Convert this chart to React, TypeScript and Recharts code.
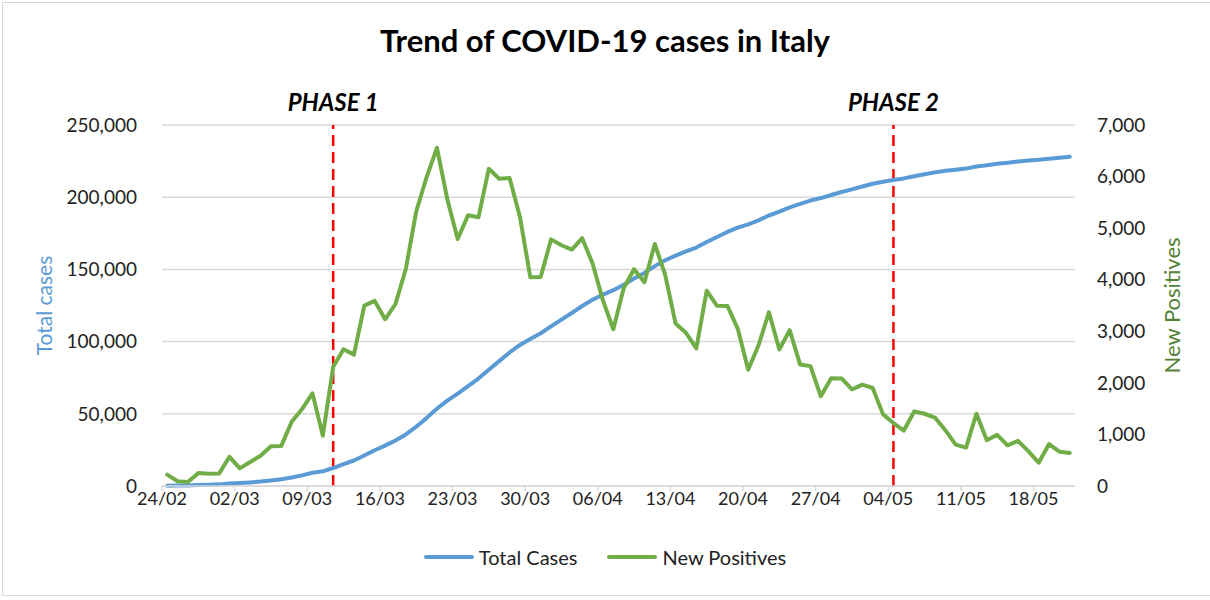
import { LineChart, Line, XAxis, YAxis, CartesianGrid, ReferenceLine, Legend } from 'recharts';

const days = [
  '24/02', '25/02', '26/02', '27/02', '28/02', '29/02',
  '01/03', '02/03', '03/03', '04/03', '05/03', '06/03', '07/03', '08/03', '09/03', '10/03',
  '11/03', '12/03', '13/03', '14/03', '15/03', '16/03', '17/03', '18/03', '19/03', '20/03',
  '21/03', '22/03', '23/03', '24/03', '25/03', '26/03', '27/03', '28/03', '29/03', '30/03', '31/03',
  '01/04', '02/04', '03/04', '04/04', '05/04', '06/04', '07/04', '08/04', '09/04', '10/04',
  '11/04', '12/04', '13/04', '14/04', '15/04', '16/04', '17/04', '18/04', '19/04', '20/04',
  '21/04', '22/04', '23/04', '24/04', '25/04', '26/04', '27/04', '28/04', '29/04', '30/04',
  '01/05', '02/05', '03/05', '04/05', '05/05', '06/05', '07/05', '08/05', '09/05', '10/05',
  '11/05', '12/05', '13/05', '14/05', '15/05', '16/05', '17/05', '18/05', '19/05', '20/05', '21/05',
];

const totalCases = [
  229, 322, 400, 650, 888, 1128,
  1694, 2036, 2502, 3089, 3858, 4636, 5883, 7375, 9172, 10149,
  12462, 15113, 17660, 21157, 24747, 27980, 31506, 35713, 41035, 47021,
  53578, 59138, 63927, 69176, 74386, 80539, 86498, 92472, 97689, 101739, 105792,
  110574, 115242, 119827, 124632, 128948, 132547, 135586, 139422, 143626, 147577,
  152271, 156363, 159516, 162488, 165155, 168941, 172434, 175925, 178972, 181228,
  183957, 187327, 189973, 192994, 195351, 197675, 199414, 201505, 203591, 205463,
  207428, 209328, 210717, 211938, 213013, 214457, 215858, 217185, 218268, 219070,
  219814, 221216, 222104, 223096, 223885, 224760, 225435, 225886, 226699, 227364, 228006,
];

const newPositives = [
  221, 93, 78, 250, 238, 240,
  566, 342, 466, 587, 769, 778, 1247, 1492, 1797, 977,
  2313, 2651, 2547, 3497, 3590, 3233, 3526, 4207, 5322, 5986,
  6557, 5560, 4789, 5249, 5210, 6153, 5959, 5974, 5217, 4050, 4053,
  4782, 4668, 4585, 4805, 4316, 3599, 3039, 3836, 4204, 3951,
  4694, 4092, 3153, 2972, 2667, 3786, 3493, 3491, 3047, 2256,
  2729, 3370, 2646, 3021, 2357, 2324, 1739, 2091, 2086, 1872,
  1965, 1900, 1389, 1221, 1075, 1444, 1401, 1327, 1083, 802,
  744, 1402, 888, 992, 789, 875, 675, 451, 813, 665, 642,
];

const tickLabels = ['24/02', '02/03', '09/03', '16/03', '23/03', '30/03', '06/04', '13/04', '20/04', '27/04', '04/05', '11/05', '18/05'];
const leftTicks = [0, 50000, 100000, 150000, 200000, 250000];
const rightTicks = [0, 1000, 2000, 3000, 4000, 5000, 6000, 7000];
const phases = [
  { label: 'PHASE 1', date: '11/03' },
  { label: 'PHASE 2', date: '04/05' },
];

const FONT = 'Lato, sans-serif';
const BLUE = '#5B9BD5';
const GREEN = '#70AD47';
const TEXT = '#222';

const data = days.map((d, i) => ({ i, date: d, total: totalCases[i], positives: newPositives[i] }));
// Excel places date ticks at the left edge of each day slot
const xTicks = tickLabels.map((_, k) => k * 7 - 0.5);
const fmt = (v: number) => v.toLocaleString('en-US');

function ChartLegend() {
  const items = [
    { name: 'Total Cases', color: BLUE },
    { name: 'New Positives', color: GREEN },
  ];
  return (
    <div style={{ display: 'flex', justifyContent: 'center', alignItems: 'center', height: 34, fontFamily: FONT, fontSize: 20, color: TEXT }}>
      {items.map((it, k) => (
        <div key={it.name} style={{ display: 'flex', alignItems: 'center', marginLeft: k ? 30 : 0 }}>
          <span style={{ display: 'inline-block', width: 50, height: 4, background: it.color, borderRadius: 2, marginRight: 5 }} />
          <span>{it.name}</span>
        </div>
      ))}
    </div>
  );
}

export default function App() {
  return (
    <div style={{ position: 'absolute', left: 0, top: 0, width: 1210, height: 600, background: '#fff', overflow: 'hidden' }}>
      <div style={{ position: 'absolute', left: 2, top: 2, width: 1220, height: 594, border: '1px solid #D9D9D9', boxSizing: 'border-box' }} />
      <div style={{ position: 'absolute', left: 0, top: 21, width: 1210, textAlign: 'center', fontFamily: FONT, fontWeight: 700, fontSize: 31, color: '#000' }}>
        Trend of COVID-19 cases in Italy
      </div>
      <LineChart width={1210} height={600} data={data} margin={{ top: 125, right: 0, bottom: 0, left: 0 }} style={{ position: 'absolute', left: 0, top: 0 }}>
        <CartesianGrid yAxisId="left" vertical={false} stroke="#D9D9D9" strokeWidth={1.5} />
        <XAxis
          dataKey="i"
          type="number"
          domain={[-0.5, 87.5]}
          ticks={xTicks}
          interval={0}
          allowDataOverflow
          height={80}
          tickFormatter={(v: number) => tickLabels[Math.round((v + 0.5) / 7)]}
          tick={{ fill: TEXT, fontSize: 18, fontFamily: FONT }}
          axisLine={{ stroke: '#D9D9D9', strokeWidth: 1.5 }}
          tickLine={{ stroke: '#D9D9D9', strokeWidth: 1.5 }}
          tickSize={5}
          tickMargin={1}
        />
        <YAxis
          yAxisId="left"
          domain={[0, 250000]}
          ticks={leftTicks}
          width={162}
          axisLine={false}
          tickLine={false}
          tickSize={0}
          tickMargin={25}
          tickFormatter={fmt}
          tick={{ fill: TEXT, fontSize: 19, fontFamily: FONT }}
          label={{ value: 'Total cases', angle: -90, position: 'insideLeft', offset: 45, style: { textAnchor: 'middle', fill: BLUE, fontSize: 21, fontFamily: FONT } }}
        />
        <YAxis
          yAxisId="right"
          orientation="right"
          domain={[0, 7000]}
          ticks={rightTicks}
          width={135}
          axisLine={false}
          tickLine={false}
          tickSize={0}
          tickMargin={22}
          tickFormatter={fmt}
          tick={{ fill: TEXT, fontSize: 19, fontFamily: FONT }}
          label={{ value: 'New Positives', angle: -90, position: 'insideRight', offset: 38, style: { textAnchor: 'middle', fill: '#548235', fontSize: 22, fontFamily: FONT } }}
        />
        {phases.map((p) => (
          <ReferenceLine
            key={p.label}
            yAxisId="left"
            x={days.indexOf(p.date)}
            stroke="#FF0000"
            strokeWidth={2.5}
            strokeDasharray="11 6"
            label={{ value: p.label, position: 'top', offset: 14, style: { fill: '#000', fontSize: 24, fontWeight: 700, fontStyle: 'italic', fontFamily: FONT } }}
          />
        ))}
        <Line yAxisId="left" type="linear" dataKey="total" name="Total Cases" stroke={BLUE} strokeWidth={4} dot={false} strokeLinejoin="round" strokeLinecap="round" isAnimationActive={false} />
        <Line yAxisId="right" type="linear" dataKey="positives" name="New Positives" stroke={GREEN} strokeWidth={4} dot={false} strokeLinejoin="round" strokeLinecap="round" isAnimationActive={false} />
        <Legend verticalAlign="bottom" content={() => <ChartLegend />} wrapperStyle={{ top: 540, bottom: 'auto', left: 0, width: 1210 }} />
      </LineChart>
    </div>
  );
}
